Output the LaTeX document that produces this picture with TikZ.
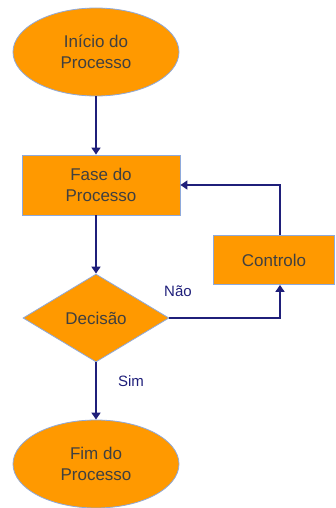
\documentclass[tikz,border=0pt]{standalone}
\usepackage{fontspec}
\setmainfont{Liberation Sans}
\usetikzlibrary{shapes.geometric,arrows.meta}
\definecolor{fillorange}{HTML}{FF9900}
\definecolor{edgeblue}{HTML}{8EA9DB}
\definecolor{linknavy}{HTML}{1F1F7A}
\definecolor{textgrey}{HTML}{404040}
\tikzset{
  x=1pt, y=-1pt,
  shapebase/.style={fill=fillorange, draw=edgeblue, line width=0.8pt,
    text=textgrey, font=\fontsize{17}{21}\selectfont, align=center, inner sep=0pt},
  terminal/.style={shapebase, ellipse, minimum width=166pt, minimum height=88pt},
  stepbox/.style={shapebase, rectangle, minimum width=158pt, minimum height=60pt},
  ctrlbox/.style={shapebase, rectangle, minimum width=121pt, minimum height=49pt},
  decision/.style={shapebase, diamond, minimum width=146pt, minimum height=88pt, aspect=1.66},
  link/.style={draw=linknavy, line width=1.5pt, -{Triangle[length=7pt,width=9pt]}},
  lbl/.style={text=linknavy, font=\fontsize{15}{18}\selectfont}
}
\begin{document}
\begin{tikzpicture}
\useasboundingbox (0,0) rectangle (335,508);
% flowchart shapes
\node[terminal] (start) at (96,52) {Início do\\Processo};
\node[stepbox] (phase) at (101,185) {Fase do\\Processo};
\node[decision] (decide) at (96,318) {Decisão};
\node[ctrlbox] (ctrl) at (274,260) {Controlo};
\node[terminal] (finish) at (96,464) {Fim do\\Processo};
% bends of the feedback loop
\coordinate (turnlow) at (280,318);
\coordinate (turnhigh) at (280,185);
% main flow
\draw[link] (start.south) -- (start.south |- phase.north);
\draw[link] (decide.north |- phase.south) -- (decide.north);
\draw[link] (decide.south) -- (finish.north);
% feedback loop through the control step
\draw[link] (decide.east) -- (turnlow) -- (turnlow |- ctrl.south);
\draw[link] (turnhigh |- ctrl.north) -- (turnhigh) -- (phase.east);
\node[lbl] (no) at (178,291) {Não};
\node[lbl] (yes) at (131,381) {Sim};
\end{tikzpicture}
\end{document}
